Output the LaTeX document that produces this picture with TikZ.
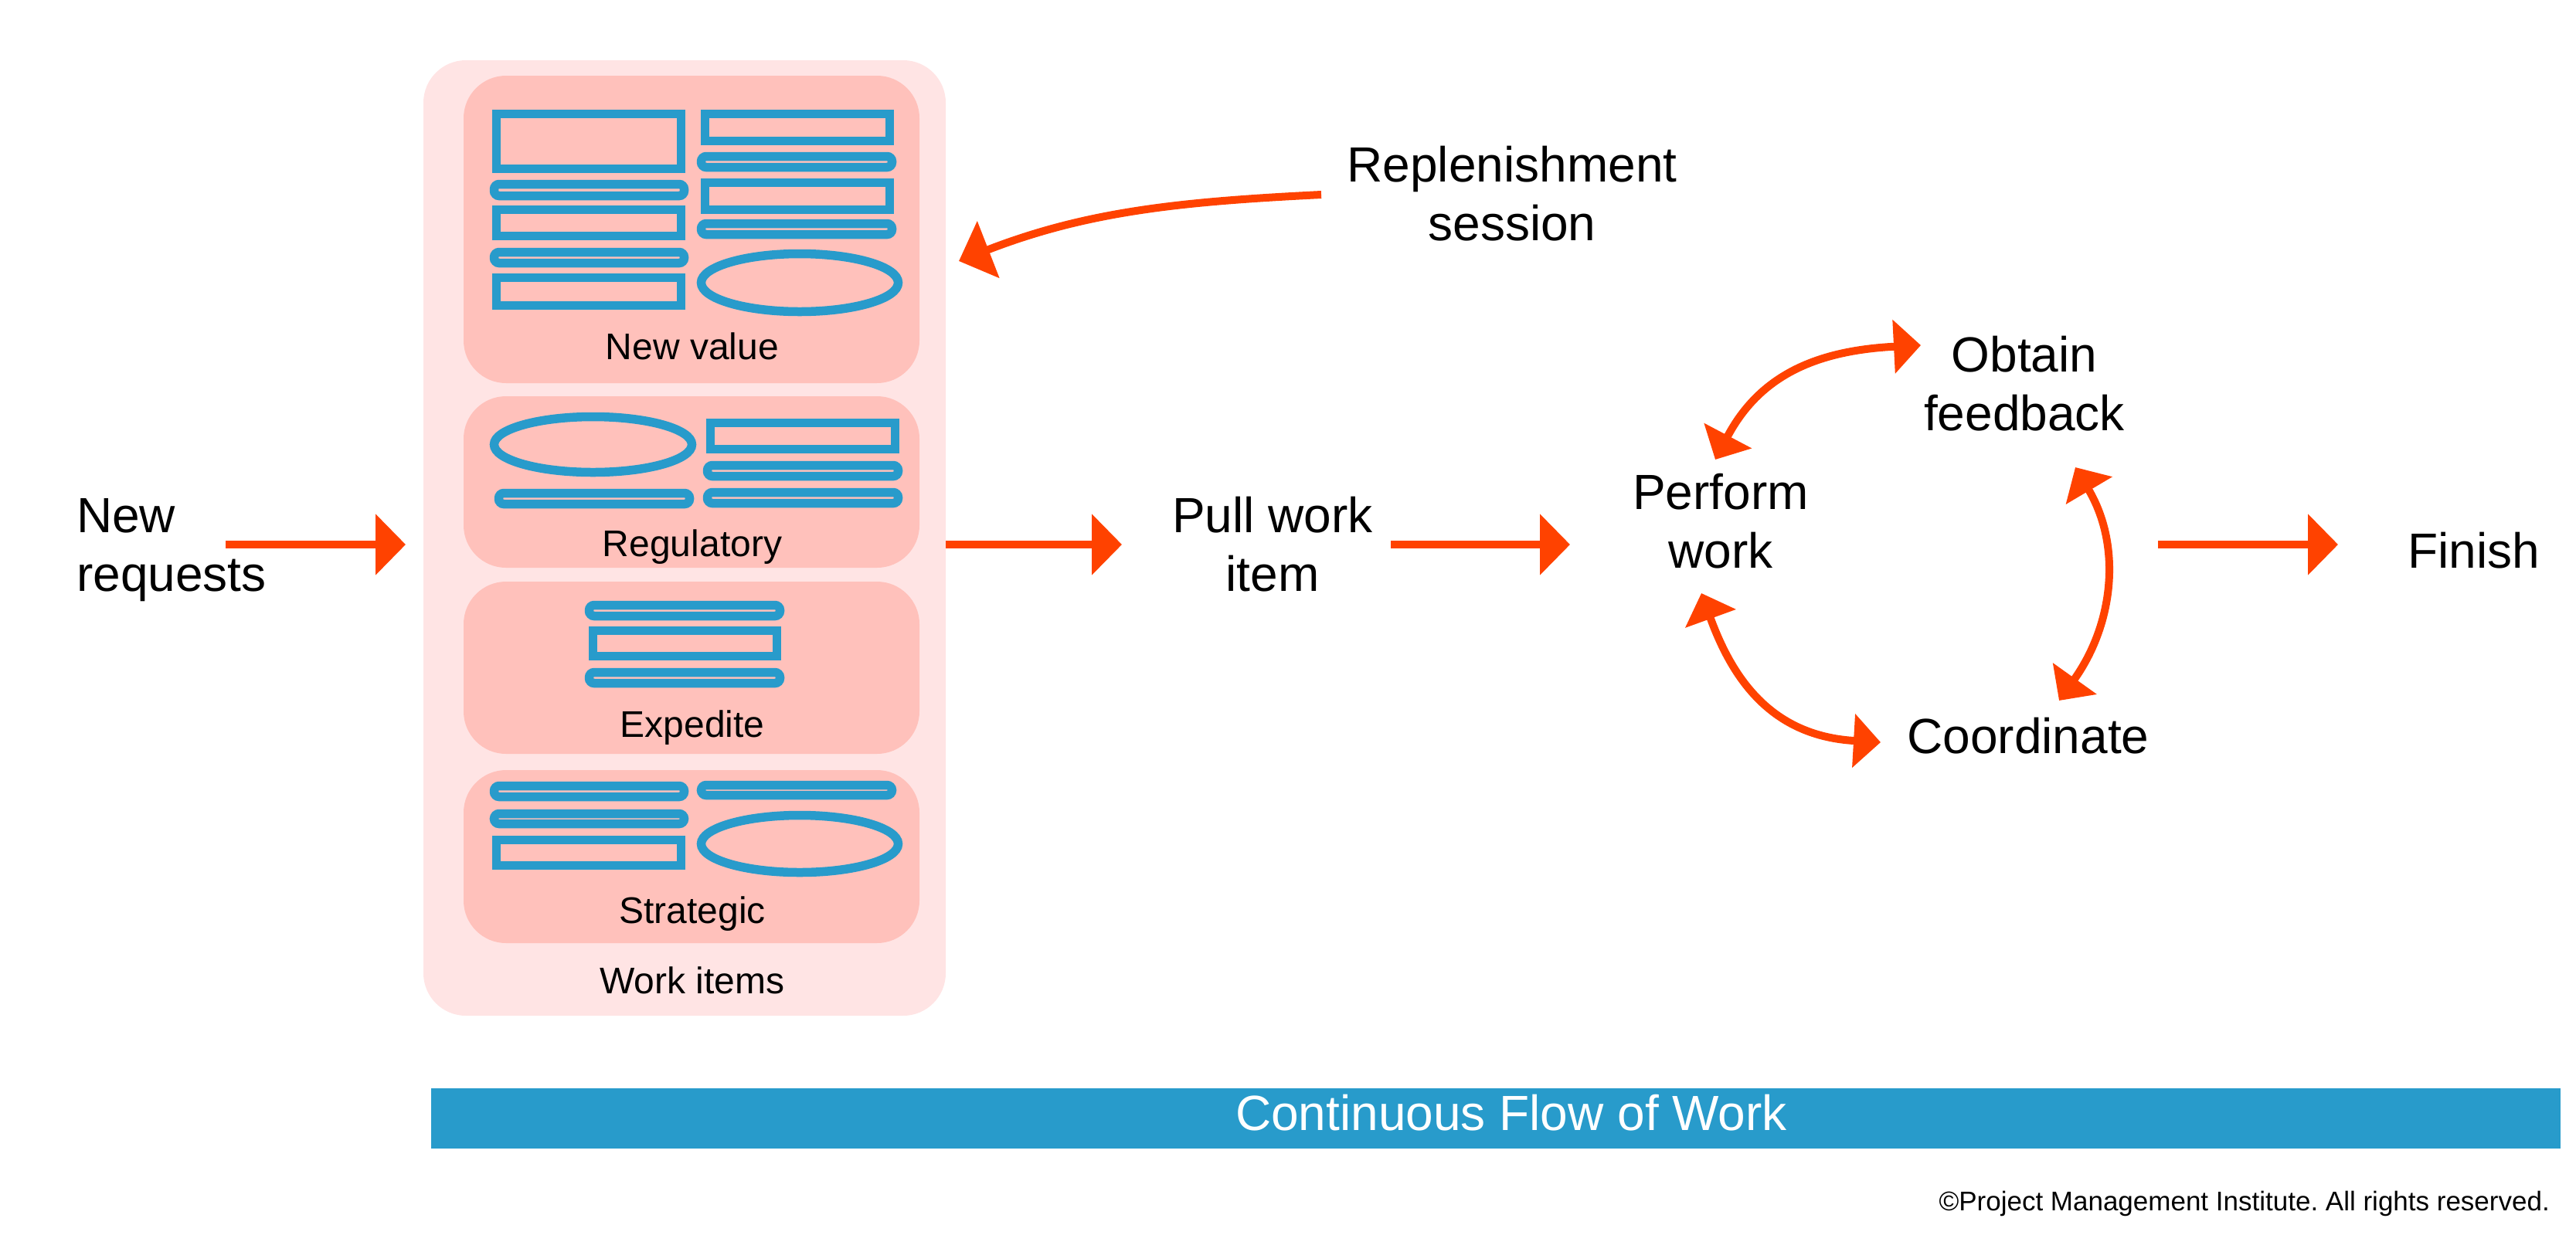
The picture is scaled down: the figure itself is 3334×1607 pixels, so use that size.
\documentclass[tikz,border=0pt]{standalone}
\usepackage{fontspec}
\setmainfont{Liberation Sans}
\usetikzlibrary{arrows.meta}
\definecolor{flowor}{RGB}{255,66,0}
\definecolor{iconblue}{RGB}{40,155,203}
\definecolor{outerpink}{RGB}{255,228,228}
\definecolor{innerpink}{RGB}{255,193,187}
\newcommand\pillat[4]{\draw[pill] (#1+5.5,#2+5.5) rectangle (#3-5.5,#4-5.5);}
\newcommand\rectat[4]{\draw[icon] (#1+5.5,#2+5.5) rectangle (#3-5.5,#4-5.5);}
\tikzset{
  bigtext/.style={font=\fontsize{64}{76}\selectfont, inner sep=0pt},
  smalltext/.style={font=\fontsize{48}{58}\selectfont, inner sep=0pt},
  flowarrow/.style={draw=flowor, line width=10pt, -{Triangle[length=39pt,width=77pt]}},
  cyclearrow/.style={draw=flowor, line width=10pt, {Triangle[length=35pt,width=68pt]}-{Triangle[length=35pt,width=68pt]}},
  icon/.style={draw=iconblue, line width=11.5pt},
  pill/.style={icon, rounded corners=6.5pt},
  outerbox/.style={fill=outerpink, rounded corners=55pt, inner sep=0pt, draw=none},
  innerbox/.style={fill=innerpink, rounded corners=55pt, inner sep=0pt, draw=none},
}
\begin{document}
\begin{tikzpicture}[x=1pt,y=-1pt]
\useasboundingbox (0,0) rectangle (3334,1607);

% work item containers
\node[outerbox, minimum width=676pt, minimum height=1237pt] (wi) at (886,696.5) {};
\node[innerbox, minimum width=590pt, minimum height=398pt] (nv) at (895,297) {};
\node[innerbox, minimum width=590pt, minimum height=222pt] (reg) at (895,624) {};
\node[innerbox, minimum width=590pt, minimum height=223pt] (exp) at (895,864.5) {};
\node[innerbox, minimum width=590pt, minimum height=224pt] (str) at (895,1109) {};

% New value icons
\rectat{637}{142}{887}{224}
\pillat{634}{233}{891}{259}
\rectat{637}{266}{887}{311}
\pillat{634}{321}{891}{346}
\rectat{637}{354}{887}{401}
\rectat{907}{142}{1157}{188}
\pillat{902}{197}{1160}{222}
\rectat{907}{231}{1157}{277}
\pillat{902}{284}{1160}{309}
\draw[icon] (1035,366) ellipse [x radius=127.5pt, y radius=37.5pt];

% Regulatory icons
\draw[icon] (767.5,575.5) ellipse [x radius=128pt, y radius=36pt];
\pillat{640}{633}{898}{658}
\rectat{914}{542}{1164}{587}
\pillat{910}{597}{1168}{622}
\pillat{910}{632}{1168}{657}

% Expedite icons
\pillat{757}{778}{1015}{803}
\rectat{762}{811}{1011}{855}
\pillat{757}{865}{1015}{890}

% Strategic icons
\pillat{634}{1012}{891}{1037}
\pillat{634}{1048}{891}{1072}
\rectat{637}{1082}{887}{1126}
\pillat{902}{1011}{1160}{1035}
\draw[icon] (1035,1092.5) ellipse [x radius=127.5pt, y radius=37pt];

% box labels
\node[smalltext, anchor=base] (nvl) at (896,465) {New value};
\node[smalltext, anchor=base] (regl) at (896,720) {Regulatory};
\node[smalltext, anchor=base] (expl) at (896,954) {Expedite};
\node[smalltext, anchor=base] (strl) at (896,1195) {Strategic};
\node[smalltext, anchor=base] (wil) at (896,1286) {Work items};

% main labels
\node[bigtext, anchor=base west] (nr) at (99,689) {\begin{tabular}[t]{@{}l@{}}New\\requests\end{tabular}};
\node[bigtext, anchor=base] (pull) at (1647,689) {\begin{tabular}[t]{@{}c@{}}Pull work\\item\end{tabular}};
\node[bigtext, anchor=base] (perf) at (2227,659) {\begin{tabular}[t]{@{}c@{}}Perform\\work\end{tabular}};
\node[bigtext, anchor=base] (obt) at (2620,481) {\begin{tabular}[t]{@{}c@{}}Obtain\\feedback\end{tabular}};
\node[bigtext, anchor=base] (coord) at (2625,975) {Coordinate};
\node[bigtext, anchor=base] (fin) at (3202,735) {Finish};
\node[bigtext, anchor=base] (rep) at (1957,235) {\begin{tabular}[t]{@{}c@{}}Replenishment\\session\end{tabular}};

% arrow end points
\coordinate (a1s) at (292,705);  \coordinate (a1e) at (525,705);
\coordinate (a2s) at (1224,705); \coordinate (a2e) at (1452,705);
\coordinate (a3s) at (1800,705); \coordinate (a3e) at (2032,705);
\coordinate (a4s) at (2793,705); \coordinate (a4e) at (3026,705);
\coordinate (rs) at (1710,252);  \coordinate (re) at (1241,338);
\coordinate (pfo) at (2220,595); \coordinate (ofp) at (2486,447);
\coordinate (pfc) at (2202,768); \coordinate (cfp) at (2434,961);
\coordinate (ofc) at (2686,605); \coordinate (cfo) at (2665,907);

\draw[flowarrow] (a1s) -- (a1e);
\draw[flowarrow] (a2s) -- (a2e);
\draw[flowarrow] (a3s) -- (a3e);
\draw[flowarrow] (a4s) -- (a4e);
\draw[draw=flowor, line width=10pt, -{Triangle[length=41pt,width=77pt]}]
  (rs) .. controls (1530,261) and (1408,273) .. (re);
\draw[cyclearrow] (pfo) .. controls (2276,489) and (2346,454) .. (ofp);
\draw[cyclearrow] (pfc) .. controls (2243,881) and (2294,953) .. (cfp);
\draw[cyclearrow] (ofc) .. controls (2747,708) and (2735,809) .. (cfo);

% bottom bar
\node[fill=iconblue, draw=none, inner sep=0pt, minimum width=2756pt, minimum height=78pt] (bar) at (1936,1448) {};
\node[bigtext, text=white, anchor=base] (barl) at (1956,1463) {Continuous Flow of Work};
\node[font=\fontsize{35}{42}\selectfont, inner sep=0pt, anchor=base east] (copy) at (3300,1567) {©Project Management Institute.\ All rights reserved.};
\end{tikzpicture}
\end{document}
